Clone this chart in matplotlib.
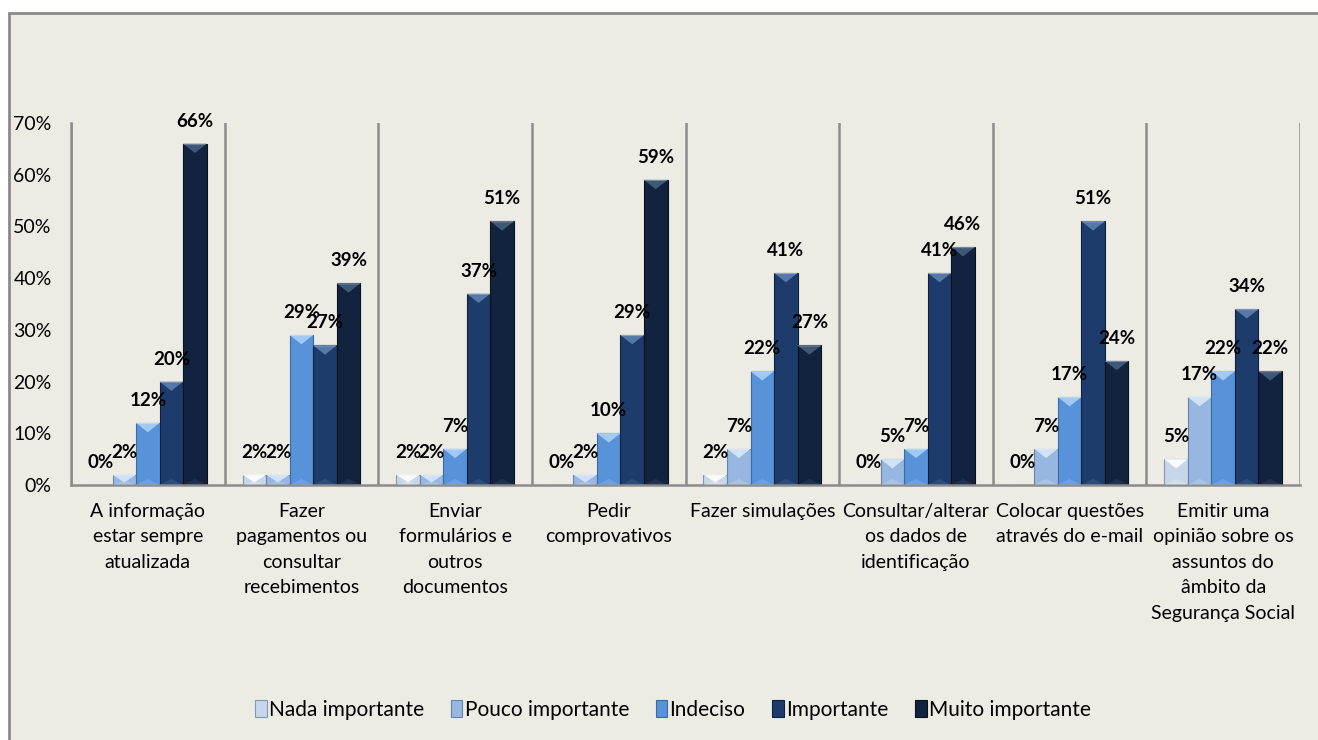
import matplotlib
matplotlib.use("Agg")
import matplotlib.pyplot as plt
from matplotlib.patches import Polygon, Rectangle, Patch
from matplotlib.ticker import FuncFormatter, MultipleLocator, FixedLocator
import numpy as np

plt.rcParams['font.family'] = ['Lato', 'DejaVu Sans']

categorias = [
    "A informação\nestar sempre\natualizada",
    "Fazer\npagamentos ou\nconsultar\nrecebimentos",
    "Enviar\nformulários e\noutros\ndocumentos",
    "Pedir\ncomprovativos",
    "Fazer simulações",
    "Consultar/alterar\nos dados de\nidentificação",
    "Colocar questões\natravés do e-mail",
    "Emitir uma\nopinião sobre os\nassuntos do\nâmbito da\nSegurança Social",
]
series = ["Nada importante", "Pouco importante", "Indeciso", "Importante", "Muito importante"]

nada = [0, 2, 2, 0, 2, 0, 0, 5]
pouco = [2, 2, 2, 2, 7, 5, 7, 17]
indeciso = [12, 29, 7, 10, 22, 7, 17, 22]
importante = [20, 27, 37, 29, 41, 41, 51, 34]
muito = [66, 39, 51, 59, 27, 46, 24, 22]
valores = [nada, pouco, indeciso, importante, muito]

# corpo, realce do bisel, contorno
cores = ["#C8D6EA", "#98B7E0", "#5892D9", "#1D3B6B", "#11233E"]
realces = ["#FFFFFF", "#D6E8FB", "#A9D0F8", "#5C80AF", "#465E7E"]
bordas = ["#8397B3", "#6683A8", "#3A6BA6", "#0E2240", "#07121F"]

fundo = "#EDECE4"

fig = plt.figure(figsize=(13.18, 7.40), dpi=100, facecolor="white")
fig.patches.append(Rectangle((9 / 1318, -0.05), 1.1, 0.05 + 1 - 13 / 740,
                             transform=fig.transFigure, facecolor=fundo,
                             edgecolor="#8A8A8A", linewidth=2, zorder=-5))

ax = fig.add_axes([71 / 1318, 1 - 485 / 740, (1300 - 71) / 1318, (485 - 123) / 740])
ax.set_facecolor("none")

n = len(categorias)
x = np.arange(n)
grupo = 0.766
w = grupo / 5

for j, vals in enumerate(valores):
    xs = x + (j - 2) * w
    v = np.array(vals) / 100
    ax.bar(xs, v, width=w, color=cores[j], edgecolor=bordas[j], linewidth=0.8, zorder=2)
    for xc, h in zip(xs, v):
        ax.annotate(f"{int(round(h * 100))}%", (xc, h), xytext=(0, 10), textcoords="offset points",
                    ha="center", va="bottom", fontsize=13.5, fontweight="bold", color="black",
                    annotation_clip=False, zorder=4)
        if h <= 0:
            continue
        x0, x1 = xc - w / 2, xc + w / 2
        d = min(0.018, h * 0.75)
        # bisel superior em forma de V
        ax.add_patch(Polygon([(x0, h), (x1, h), (xc, h - d)], closed=True,
                             facecolor=realces[j], edgecolor="none", alpha=0.9, zorder=3))
        ax.add_patch(Polygon([(x0, h), (x1, h), (x1 - 0.006, h - 0.002), (x0 + 0.006, h - 0.002)],
                             closed=True, facecolor="white", edgecolor="none", alpha=0.35, zorder=3))
        # bisel inferior, mais discreto
        db = min(0.012, h * 0.4)
        ax.add_patch(Polygon([(x0, 0), (x1, 0), (xc, db)], closed=True,
                             facecolor=realces[j], edgecolor="none", alpha=0.25, zorder=3))

ax.set_xlim(-0.5, n - 0.5)
ax.set_ylim(0, 0.70)
ax.yaxis.set_major_locator(MultipleLocator(0.10))
ax.yaxis.set_major_formatter(FuncFormatter(lambda y, _: f"{y * 100:.0f}%"))
ax.tick_params(axis="y", length=0, pad=14, labelsize=14)

ax.set_xticks(x)
ax.set_xticklabels(categorias, fontsize=14, linespacing=1.6)
ax.xaxis.set_minor_locator(FixedLocator(np.arange(n + 1) - 0.5))
ax.tick_params(axis="x", which="both", length=0, pad=13)
ax.grid(axis="x", which="minor", color="#8C8C8C", linewidth=1.8, zorder=1)
ax.set_axisbelow(True)

for s in ["top", "right"]:
    ax.spines[s].set_visible(False)
for s in ["left", "bottom"]:
    ax.spines[s].set_color("#8C8C8C")
    ax.spines[s].set_linewidth(1.8)

handles = [Patch(facecolor=cores[j], edgecolor=bordas[j], linewidth=0.8) for j in range(5)]
fig.legend(handles, series, loc="center", bbox_to_anchor=(673 / 1318, 1 - 710 / 740), ncol=5,
           frameon=False, fontsize=15, handlelength=0.55, handleheight=0.9,
           handletextpad=0.1, columnspacing=1.3)

fig.savefig("out.png", dpi=100, facecolor="white")
